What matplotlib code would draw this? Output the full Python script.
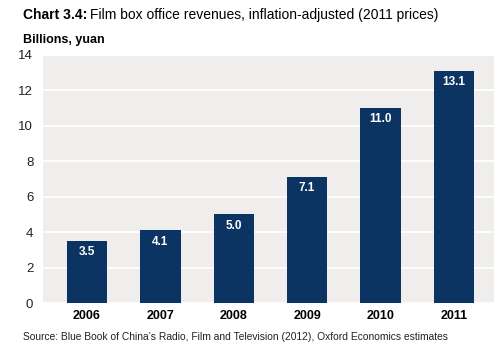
import matplotlib
matplotlib.use("Agg")
import matplotlib.pyplot as plt

# ---------------------------------------------------------------------------
YEARS   = ["2006", "2007", "2008", "2009", "2010", "2011"]
REVENUE = [3.5, 4.1, 5.0, 7.1, 11.0, 13.1]
Y_TICKS = [0, 2, 4, 6, 8, 10, 12, 14]

BAR_COLOR = "#0b3463"
BG_COLOR  = "#efeeed"

plt.rcParams["font.family"] = ["Liberation Sans", "DejaVu Sans"]

fig = plt.figure(figsize=(4.98, 3.5), dpi=100)
ax = fig.add_axes([0.0863, 0.134, 0.906, 0.709])
ax.set_facecolor(BG_COLOR)

x = list(range(len(YEARS)))
ax.bar(x, REVENUE, width=0.55, color=BAR_COLOR, zorder=3)
for xi, v in zip(x, REVENUE):
    ax.annotate(f"{v:.1f}", (xi, v), xytext=(0, -8), textcoords="offset points",
                ha="center", va="center", color="white", fontsize=8.5,
                fontweight="bold", zorder=4)

ax.set_xlim(-0.6, 5.55)
ax.set_ylim(0, 14)
ax.set_yticks(Y_TICKS)
ax.set_xticks(x)
ax.set_xticklabels(YEARS, fontweight="bold", fontsize=9)
ax.tick_params(axis="y", labelsize=9.5, length=0, pad=7, labelcolor="#222222")
ax.tick_params(axis="x", length=0, pad=5)
ax.grid(axis="y", color="white", linewidth=1.2, zorder=1)
ax.set_axisbelow(True)
for s in ax.spines.values():
    s.set_visible(False)

# title: bold lead-in followed by regular text
fig.canvas.draw()
r = fig.canvas.get_renderer()
t1 = fig.text(23 / 498, 1 - 15 / 350, "Chart 3.4:", fontsize=10,
              fontweight="bold", va="center")
bb = t1.get_window_extent(renderer=r)
fig.text((bb.x1 + 3) / 498, 1 - 15 / 350,
         "Film box office revenues, inflation-adjusted (2011 prices)",
         fontsize=10, va="center")
fig.text(23 / 498, 1 - 40 / 350, "Billions, yuan", fontsize=9,
         fontweight="bold", va="center")
fig.text(23 / 498, 1 - 337 / 350,
         "Source: Blue Book of China\u2019s Radio, Film and Television (2012), "
         "Oxford Economics estimates",
         fontsize=7.4, va="center", color="#222222")

fig.savefig("out.png", dpi=100)
